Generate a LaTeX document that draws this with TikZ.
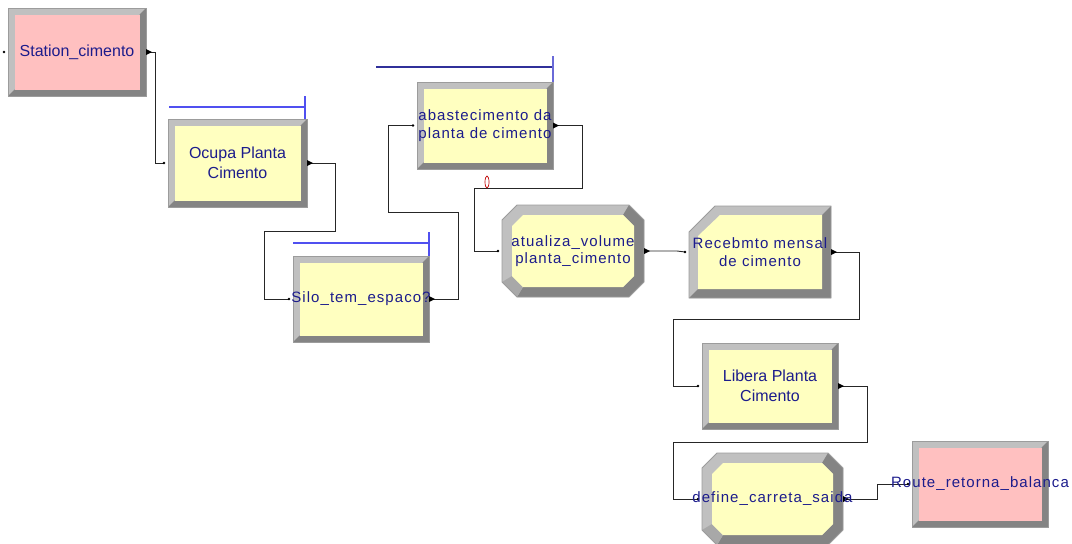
\documentclass[tikz,border=0pt]{standalone}
\usepackage{fontspec}
\setmainfont{Liberation Sans}
\newfontfamily\spaced[LetterSpace=7]{Liberation Sans}
\usetikzlibrary{calc}

\definecolor{face}{HTML}{FFFFC0}
\definecolor{facered}{HTML}{FFC0C0}
\definecolor{bvlight}{HTML}{C0C0C0}
\definecolor{bvmid}{HTML}{A8A8A8}
\definecolor{bvdark}{HTML}{848484}
\definecolor{bvedge}{HTML}{9C9C9C}
\definecolor{txt}{HTML}{1C1C8C}
\definecolor{qblue}{HTML}{5050F0}
\definecolor{qnavy}{HTML}{30309A}
\definecolor{qtick}{HTML}{6A6AD8}

% frame of a module node: lower left corner (\mbxa,\mbya), size \mbw x \mbh
\newcommand\modframe[1]{%
  \pgfpointanchor{#1}{south west}\pgfgetlastxy{\mbxa}{\mbya}%
  \pgfpointanchor{#1}{north east}\pgfgetlastxy{\mbxb}{\mbyb}%
  \pgfmathsetmacro\mbw{\mbxb-\mbxa}\pgfmathsetmacro\mbh{\mbyb-\mbya}}

% rectangular module with a 3D bevel: node, face colour
\newcommand\rectbevel[2]{\modframe{#1}%
  \begin{scope}[shift={(\mbxa,\mbya)},x=1pt,y=1pt]
    \fill[bvlight] (0,0) rectangle (\mbw,\mbh);
    \fill[bvdark] (\mbw,\mbh) -- (\mbw,0) -- (0,0) -- (6.5,6.5) -- (\mbw-6.5,6.5) -- (\mbw-6.5,\mbh-6.5) -- cycle;
    \fill[#2] (6.5,6.5) rectangle (\mbw-6.5,\mbh-6.5);
    \draw[bvedge,line width=0.9pt] (0,0) rectangle (\mbw,\mbh);
  \end{scope}}

% octagonal module (assign)
\newcommand\octbevel[1]{\modframe{#1}%
  \begin{scope}[shift={(\mbxa,\mbya)},x=1pt,y=1pt]
    \fill[bvlight] (15,\mbh) -- (\mbw-15,\mbh) -- (\mbw,\mbh-15) -- (\mbw,15) -- (\mbw-15,0) -- (15,0) -- (0,15) -- (0,\mbh-15) -- cycle;
    \fill[bvdark] (\mbw-15,\mbh) -- (\mbw,\mbh-15) -- (\mbw,15) -- (\mbw-15,0) -- (15,0)
      -- (21,10) -- (\mbw-21,10) -- (\mbw-10,21) -- (\mbw-10,\mbh-21) -- (\mbw-21,\mbh-10) -- cycle;
    \fill[bvmid] (15,0) -- (0,15) -- (10,21) -- (21,10) -- cycle;
    \fill[face] (21,\mbh-10) -- (\mbw-21,\mbh-10) -- (\mbw-10,\mbh-21) -- (\mbw-10,21) -- (\mbw-21,10) -- (21,10) -- (10,21) -- (10,\mbh-21) -- cycle;
    \draw[bvedge,line width=0.9pt] (15,\mbh) -- (\mbw-15,\mbh) -- (\mbw,\mbh-15) -- (\mbw,15) -- (\mbw-15,0) -- (15,0) -- (0,15) -- (0,\mbh-15) -- cycle;
  \end{scope}}

% module with one cut corner (top left)
\newcommand\cutbevel[1]{\modframe{#1}%
  \begin{scope}[shift={(\mbxa,\mbya)},x=1pt,y=1pt]
    \fill[bvlight] (0,0) -- (\mbw,0) -- (\mbw,\mbh) -- (26,\mbh) -- (0,\mbh-26) -- cycle;
    \fill[bvdark] (\mbw,\mbh) -- (\mbw,0) -- (0,0) -- (9,9) -- (\mbw-9,9) -- (\mbw-9,\mbh-9) -- cycle;
    \fill[face] (9,9) -- (\mbw-9,9) -- (\mbw-9,\mbh-9) -- (31,\mbh-9) -- (9,\mbh-30) -- cycle;
    \draw[bvedge,line width=0.9pt] (0,0) -- (\mbw,0) -- (\mbw,\mbh) -- (26,\mbh) -- (0,\mbh-26) -- cycle;
  \end{scope}}

\tikzset{
  modbox/.style 2 args={rectangle, inner sep=0pt, outer sep=0pt, minimum width=#1pt, minimum height=#2pt},
  lbl/.style={text=txt, align=center, inner sep=0pt, font=\fontsize{16}{20.5}\selectfont},
  lbls/.style={text=txt, align=center, inner sep=0pt, font=\spaced\fontsize{15}{17.5}\selectfont},
  conn/.style={draw=black!85, line width=0.9pt},
  qline/.style={line width=1.1pt},
}

\begin{document}
\begin{tikzpicture}[x=1pt,y=-1pt]
\useasboundingbox (0,0) rectangle (1072,544);
\clip (0,0) rectangle (1072,544);

% module outlines (named, used by the connections)
\node[modbox={138}{88}] (st) at (77,52) {};
\node[modbox={139}{88}] (oc) at (237.5,163) {};
\node[modbox={136}{86}] (si) at (361,299) {};
\node[modbox={136}{87}] (ab) at (485,125.5) {};
\node[modbox={142}{92}] (at) at (573,251) {};
\node[modbox={142}{92}] (re) at (760,252) {};
\node[modbox={136}{86}] (li) at (770,386) {};
\node[modbox={141}{92}] (de) at (772.5,499) {};
\node[modbox={136}{86}] (ro) at (980,484) {};

% module bodies
\rectbevel{st}{facered}
\rectbevel{oc}{face}
\rectbevel{si}{face}
\rectbevel{ab}{face}
\octbevel{at}
\cutbevel{re}
\rectbevel{li}{face}
\octbevel{de}
\rectbevel{ro}{facered}

% entry points
\foreach \n in {st,oc,si,ab,at,re,li,de,ro}
  \coordinate (\n-in) at ([xshift=-4pt]\n.west);

% queue indicators
\draw[qline,draw=qblue] ([xshift=-2pt]oc.north east) -- ++(0,-23) ++(0,11) -- ++(-136,0);
\draw[qline,draw=qblue] (si.north east) -- ++(0,-24) ++(0,11) -- ++(-136,0);
\draw[qline,draw=qnavy] (ab.north east) ++(0,-15) -- ++(-177,0);
\draw[qline,draw=qtick] (ab.north east) -- ++(0,-26);

% connections
\draw[conn] (st.east) -- ++(9,0) |- (oc-in);
\draw[conn] (oc.east) -- ++(28,0) -- ++(0,68) -- ++(-71,0) |- (si-in);
\draw[conn] (si.east) -- ++(29,0) -- ++(0,-87) -- ++(-70,0) |- (ab-in);
\draw[conn] (ab.east) -- ++(29,0) -- ++(0,62.5) -- ++(-108,0) |- (at-in);
\draw[conn] (at.east) -- ++(33,0) -- (re-in);
\draw[conn] (re.east) -- ++(28,0) -- ++(0,67) -- ++(-186,0) |- (li-in);
\draw[conn] (li.east) -- ++(29,0) -- ++(0,56) -- ++(-194,0) |- (de-in);
\draw[conn] (de.east) -- ++(34,0) |- (ro-in);

% exit markers and entry dots
\foreach \n in {st,oc,si,ab,at,re,li,de}
  \fill[black] (\n.east) -- ++(0,-3) -- ++(6,3) -- ++(-6,3) -- cycle;
\foreach \n in {st,oc,si,ab,at,re,li,de,ro}
  \fill[black] (\n-in) circle (1.4);

% counter on the loop back
\draw[red!75!black, line width=0.7pt, fill=white] (487,182) ellipse [x radius=2, y radius=6];

% module names
\node[lbl]  (st-t) at (st) {Station\_cimento};
\node[lbl]  (oc-t) at (oc) {Ocupa Planta\\Cimento};
\node[lbls] (si-t) at (si) {Silo\_tem\_espaco?};
\node[lbls] (ab-t) at (ab) {abastecimento da\\planta de cimento};
\node[lbls] (at-t) at (at) {atualiza\_volume\\planta\_cimento};
\node[lbls] (re-t) at (re) {Recebmto mensal\\de cimento};
\node[lbl]  (li-t) at (li) {Libera Planta\\Cimento};
\node[lbls] (de-t) at (de) {define\_carreta\_saida};
\node[lbls] (ro-t) at (ro) {Route\_retorna\_balanca};
\end{tikzpicture}
\end{document}
